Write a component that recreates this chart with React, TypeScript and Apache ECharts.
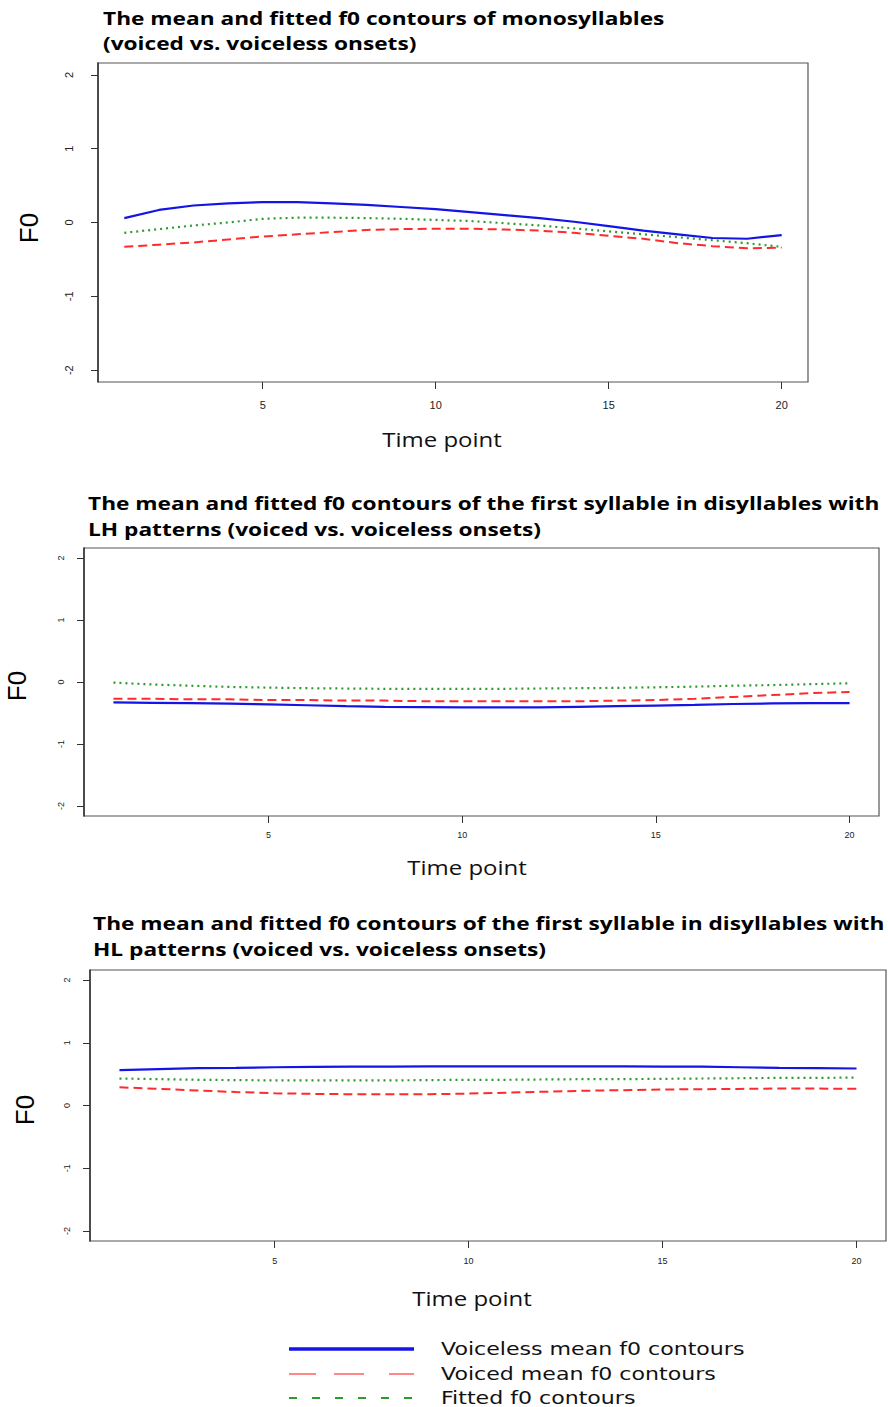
import React, { useEffect, useRef } from "react";
import * as echarts from "echarts";

const timePoints = [1, 2, 3, 4, 5, 6, 7, 8, 9, 10, 11, 12, 13, 14, 15, 16, 17, 18, 19, 20];
const xTicks = [5, 10, 15, 20];
const yTicks = [-2, -1, 0, 1, 2];

// Panel 1: monosyllables
const monoVoiceless = [0.06, 0.17, 0.23, 0.26, 0.275, 0.275, 0.26, 0.24, 0.21, 0.18, 0.14, 0.1, 0.06, 0.01, -0.05, -0.11, -0.16, -0.21, -0.22, -0.17];
const monoVoiced = [-0.33, -0.3, -0.27, -0.23, -0.19, -0.16, -0.13, -0.1, -0.09, -0.085, -0.085, -0.095, -0.11, -0.14, -0.18, -0.22, -0.28, -0.32, -0.35, -0.34];
const monoFitted = [-0.14, -0.09, -0.04, 0.0, 0.05, 0.065, 0.065, 0.06, 0.05, 0.035, 0.02, -0.01, -0.04, -0.08, -0.12, -0.16, -0.2, -0.24, -0.28, -0.33];

// Panel 2: first syllable, LH disyllables
const lhVoiceless = [-0.33, -0.335, -0.34, -0.35, -0.36, -0.375, -0.39, -0.4, -0.405, -0.41, -0.41, -0.41, -0.4, -0.39, -0.38, -0.37, -0.355, -0.345, -0.34, -0.34];
const lhVoiced = [-0.27, -0.27, -0.28, -0.28, -0.29, -0.29, -0.3, -0.3, -0.31, -0.31, -0.31, -0.31, -0.31, -0.3, -0.29, -0.27, -0.24, -0.21, -0.18, -0.16];
const lhFitted = [-0.01, -0.04, -0.06, -0.08, -0.09, -0.1, -0.105, -0.11, -0.11, -0.11, -0.11, -0.105, -0.1, -0.095, -0.085, -0.075, -0.06, -0.05, -0.035, -0.02];

// Panel 3: first syllable, HL disyllables
const hlVoiceless = [0.565, 0.58, 0.595, 0.6, 0.61, 0.615, 0.62, 0.62, 0.625, 0.625, 0.625, 0.625, 0.625, 0.625, 0.62, 0.62, 0.61, 0.6, 0.595, 0.59];
const hlVoiced = [0.29, 0.265, 0.24, 0.215, 0.195, 0.185, 0.18, 0.18, 0.18, 0.19, 0.205, 0.22, 0.235, 0.245, 0.255, 0.26, 0.265, 0.27, 0.27, 0.265];
const hlFitted = [0.43, 0.42, 0.41, 0.405, 0.4, 0.4, 0.4, 0.4, 0.405, 0.41, 0.41, 0.415, 0.42, 0.42, 0.425, 0.43, 0.435, 0.44, 0.44, 0.445];

const titles = [
  ["The mean and fitted f0 contours of monosyllables", "(voiced vs. voiceless onsets)"],
  ["The mean and fitted f0 contours of the first syllable in disyllables with", "LH patterns (voiced vs. voiceless onsets)"],
  ["The mean and fitted f0 contours of the first syllable in disyllables with", "HL patterns (voiced vs. voiceless onsets)"],
];
const legendLabels = ["Voiceless mean f0 contours", "Voiced mean f0 contours", "Fitted f0 contours"];

const panels = [
  { voiceless: monoVoiceless, voiced: monoVoiced, fitted: monoFitted },
  { voiceless: lhVoiceless, voiced: lhVoiced, fitted: lhFitted },
  { voiceless: hlVoiceless, voiced: hlVoiced, fitted: hlFitted },
];

const BLUE = "#1414e6";
const RED = "#ff2a2a";
const GREEN = "#2e9a2e";

const grids = [
  { left: 98, top: 63, width: 710, height: 319 },
  { left: 84, top: 548, width: 795, height: 268 },
  { left: 90, top: 970, width: 796, height: 271 },
];
const tickFont = [11, 9, 9];
const xLabelMargin = [17, 14, 15];
const yLabelMargin = [24, 19, 19];
const titlePos = [
  { x: 103, y1: 18, y2: 43 },
  { x: 88, y1: 503, y2: 529 },
  { x: 93, y1: 923, y2: 949 },
];
const labelPos = [
  { f0x: 29, f0y: 228, tx: 442, ty: 439 },
  { f0x: 17, f0y: 686, tx: 467, ty: 867 },
  { f0x: 25, f0y: 1110, tx: 472, ty: 1298 },
];

export default function App() {
  const ref = useRef<HTMLDivElement>(null);
  useEffect(() => {
    if (!ref.current) return;
    const chart = echarts.init(ref.current, null, { renderer: "svg" });

    const series: any[] = [];
    panels.forEach((p, i) => {
      const mk = (vals: number[]) => timePoints.map((t, k) => [t, vals[k]]);
      series.push({
        type: "line", xAxisIndex: i, yAxisIndex: i, data: mk(p.fitted), showSymbol: false,
        lineStyle: { color: GREEN, width: 2.2, type: [2, 4] }, z: 3,
      });
      series.push({
        type: "line", xAxisIndex: i, yAxisIndex: i, data: mk(p.voiced), showSymbol: false,
        lineStyle: { color: RED, width: 2, type: [9, 5] }, z: 4,
      });
      series.push({
        type: "line", xAxisIndex: i, yAxisIndex: i, data: mk(p.voiceless), showSymbol: false,
        lineStyle: { color: BLUE, width: 2.2 }, z: 5,
      });
    });

    const graphics: any[] = [];
    titles.forEach((t, i) => {
      const pos = titlePos[i];
      [t[0], t[1]].forEach((line, j) => {
        graphics.push({
          type: "text", x: pos.x, y: j === 0 ? pos.y1 : pos.y2, scaleX: 1.26,
          style: { text: line, fill: "#000", font: "bold 18px 'Open Sans'", align: "left", verticalAlign: "middle" },
        });
      });
      const lp = labelPos[i];
      graphics.push({
        type: "text", x: lp.f0x, y: lp.f0y, rotation: Math.PI / 2,
        style: { text: "F0", fill: "#000", font: "26px 'Liberation Sans'", align: "center", verticalAlign: "middle" },
      });
      graphics.push({
        type: "text", x: lp.tx, y: lp.ty, scaleX: 1.2,
        style: { text: "Time point", fill: "#111", font: "20px 'Open Sans'", align: "center", verticalAlign: "middle" },
      });
    });

    const legendY = [1349, 1374, 1398];
    const legendStyles = [
      { stroke: BLUE, lineWidth: 3.5 },
      { stroke: "#ff6060", lineWidth: 1.5, lineDash: [27, 18, 30, 25] },
      { stroke: GREEN, lineWidth: 2.2, lineDash: [8, 15] },
    ];
    legendLabels.forEach((lab, i) => {
      graphics.push({
        type: "line", shape: { x1: 289, y1: legendY[i], x2: 414, y2: legendY[i] },
        style: legendStyles[i],
      });
      graphics.push({
        type: "text", x: 441, y: legendY[i], scaleX: 1.3,
        style: { text: lab, fill: "#111", font: "17px 'DejaVu Sans'", align: "left", verticalAlign: "middle" },
      });
    });

    chart.setOption({
      animation: false,
      grid: grids.map((g) => ({ ...g, show: true, borderColor: "#555", borderWidth: 1.2, backgroundColor: "#fff" })),
      xAxis: grids.map((_, i) => ({
        type: "value", gridIndex: i, min: 0.24, max: 20.76,
        axisLine: { show: false, onZero: false },
        splitLine: { show: false },
        axisTick: { show: true, inside: false, length: 7, lineStyle: { color: "#333" }, customValues: xTicks },
        axisLabel: { show: true, margin: xLabelMargin[i], fontSize: tickFont[i], color: "#222", fontFamily: "Liberation Sans", customValues: xTicks },
      })),
      yAxis: grids.map((_, i) => ({
        type: "value", gridIndex: i, min: -2.16, max: 2.16,
        axisLine: { show: true, onZero: false, lineStyle: { color: "#333", width: 1.5 } },
        splitLine: { show: false },
        axisTick: { show: true, inside: false, length: 7, lineStyle: { color: "#333" }, customValues: yTicks },
        axisLabel: { show: true, rotate: 90, margin: yLabelMargin[i], fontSize: tickFont[i], color: "#222", fontFamily: "Liberation Sans", customValues: yTicks },
      })),
      series,
      graphic: graphics,
    });
    return () => chart.dispose();
  }, []);
  return <div ref={ref} style={{ position: "absolute", left: 0, top: 0, width: 888, height: 1407, background: "#fff" }} />;
}
